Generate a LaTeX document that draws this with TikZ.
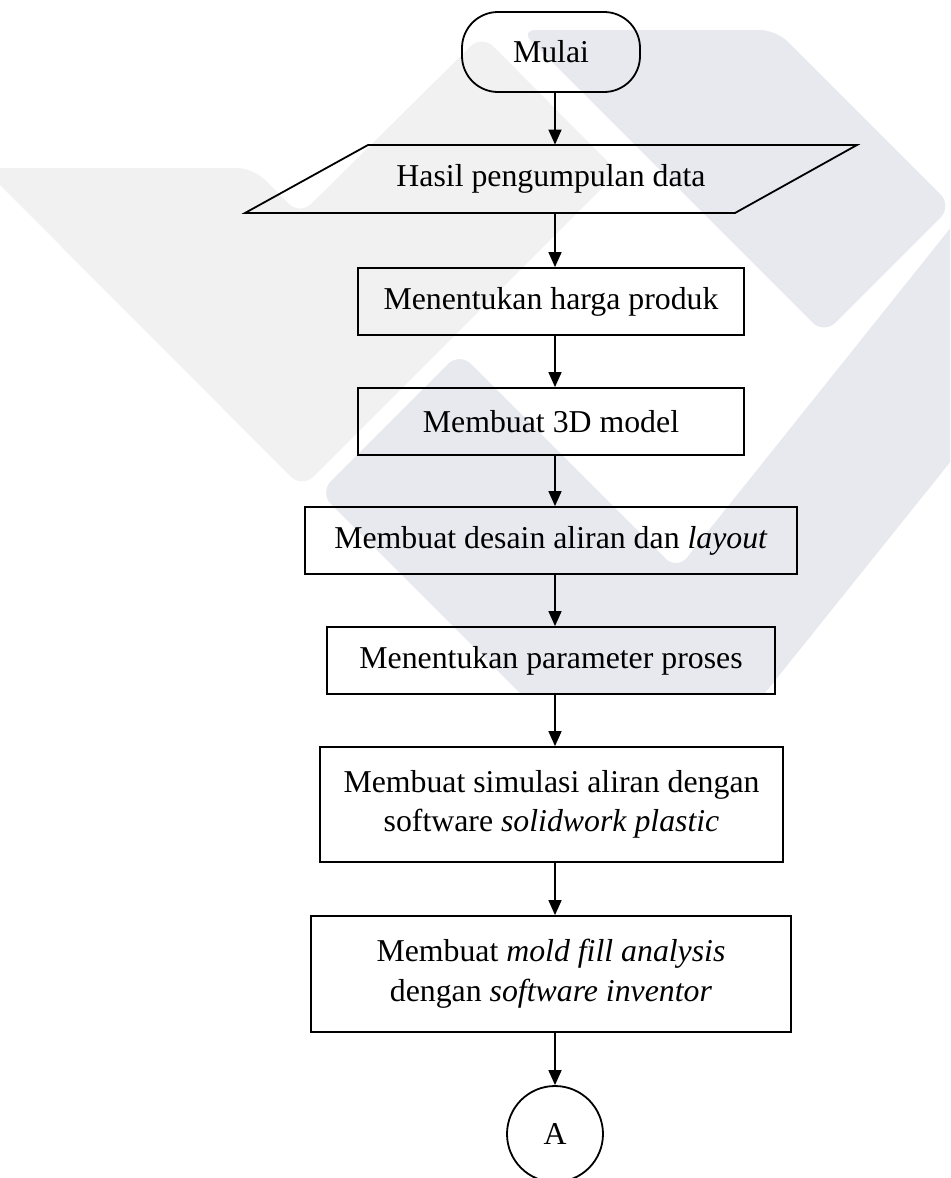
\documentclass[tikz,border=0pt]{standalone}
\usepackage{fontspec}
\setmainfont{Liberation Serif}
\usetikzlibrary{arrows.meta,calc}
\definecolor{wmlight}{HTML}{F1F1F2}
\definecolor{wmblue}{HTML}{E8E9EF}
\begin{document}
\begin{tikzpicture}[x=0.5pt,y=-0.5pt,
  font=\fontsize{15.9}{19.8}\selectfont,
  box/.style={draw,line width=0.9pt,minimum height=33.5pt,inner sep=0pt,align=center},
  arr/.style={line width=0.8pt,-{Triangle[length=7.5pt,width=6.5pt]}},
  wm/.style={rounded corners=8pt}]
\useasboundingbox (0,0) rectangle (950,1178);
% watermark
\begin{scope}
\clip (0,0) rectangle (950,694);
\fill[wmlight,wm] (-17,168) -- (253,168) -- (300,215) -- (482,35) -- (618,172) -- (302,488) -- cycle;
\fill[wmblue,wm] (520,30) -- (776,30) -- (952,206) -- (824,334) -- cycle;
\fill[wmblue,wm] (459.5,352.5) -- (677,570) -- (1000,166) -- (1000,400) -- (656,829) -- (319.5,492.5) -- cycle;
\end{scope}
% nodes
\node[draw,line width=0.9pt,rounded corners=18pt,minimum width=89pt,minimum height=40pt,inner sep=0pt] (mulai) at (551,52) {Mulai};
\node[minimum width=200pt,minimum height=34pt,inner sep=0pt] (data) at (551,179) {Hasil pengumpulan data};
\draw[line width=0.9pt] (368,145) -- (857,145) -- (735,213) -- (245,213) -- cycle;
\node[box,minimum width=193pt] (b1) at (551,301.5) {Menentukan harga produk};
\node[box,minimum width=193pt] (b2) at (551,421.5) {Membuat 3D model};
\node[box,minimum width=246pt] (b3) at (551,540.5) {Membuat desain aliran dan \textit{layout}};
\node[box,minimum width=224pt] (b4) at (551,660.5) {Menentukan parameter proses};
\node[box,minimum width=231.5pt,minimum height=57.5pt] (b5) at (551.5,804.5) {Membuat simulasi aliran dengan\\software \textit{solidwork plastic}};
\node[box,minimum width=240pt,minimum height=58pt] (b6) at (551,974) {Membuat \textit{mold fill analysis}\\dengan \textit{software inventor}};
\node[draw,circle,line width=0.9pt,minimum size=48pt,inner sep=0pt] (A) at (555,1134) {A};
\coordinate (axis) at (555,0);
% connectors
\draw[arr] (mulai.south -| axis) -- (data.north -| axis);
\draw[arr] (data.south -| axis) -- (b1.north -| axis);
\draw[arr] (b1.south -| axis) -- (b2.north -| axis);
\draw[arr] (b2.south -| axis) -- (b3.north -| axis);
\draw[arr] (b3.south -| axis) -- (b4.north -| axis);
\draw[arr] (b4.south -| axis) -- (b5.north -| axis);
\draw[arr] (b5.south -| axis) -- (b6.north -| axis);
\draw[arr] (b6.south -| axis) -- (A.north);
\end{tikzpicture}
\end{document}
